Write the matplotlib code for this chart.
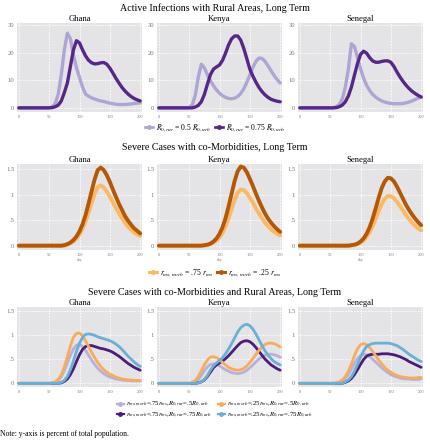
import numpy as np
import matplotlib
matplotlib.use("Agg")
import matplotlib.pyplot as plt
from matplotlib.lines import Line2D

plt.rcParams['font.family'] = ['Liberation Serif', 'DejaVu Serif']
plt.rcParams['mathtext.fontset'] = 'stix'

countries = ["Ghana", "Kenya", "Senegal"]
days = list(range(0, 205, 5))

# --- active infections, rural areas (percent) ---
ghana_r05 = [0]*10 + [0.1, 0.3, 1.5, 5, 12, 21, 27, 25, 19, 14.5, 11, 7.5, 5, 4.2, 3.6, 3.2,
                      2.8, 2.5, 2.3, 2.0, 1.7, 1.5, 1.3, 1.2, 1.2, 1.2, 1.3, 1.4, 1.6, 1.7, 1.8]
ghana_r075 = [0]*11 + [0.1, 0.4, 1.0, 2.5, 5.5, 9, 15, 21, 24.3, 23.5, 21, 18.8, 17.2, 16.3, 15.9,
                       16.0, 16.3, 16.4, 15.8, 14.4, 12.6, 10.7, 9, 7.4, 6.1, 5.0, 4.1, 3.4, 2.9, 2.5]
kenya_r05 = [0]*10 + [0.1, 1, 4.5, 11, 15.8, 14.5, 12, 9.8, 8, 6.5, 5.3, 4.4, 3.8, 3.4, 3.3, 3.5,
                      4.1, 5.2, 6.9, 9.2, 11.9, 14.6, 16.8, 18, 17.9, 16.8, 15.2, 13.4, 11.7, 10.2, 9]
kenya_r075 = [0]*12 + [0.3, 0.9, 2.2, 4.8, 8.5, 12, 14, 14.8, 15.5, 17.2, 19.8, 22.8, 25, 26, 26,
                       24.5, 21.5, 17.8, 14, 11.5, 9.3, 7.4, 5.9, 4.7, 3.8, 3.1, 2.7, 2.4, 2.2]
senegal_r05 = [0]*11 + [0.1, 0.4, 1.2, 3.2, 7.5, 14, 23.2, 22.2, 18.2, 14.2, 10.8, 8.2, 6.3, 4.9,
                        3.9, 3.1, 2.5, 2.1, 1.8, 1.6, 1.5, 1.5, 1.5, 1.6, 1.8, 2.1, 2.5, 3, 3.5, 4]
senegal_r075 = [0]*12 + [0.1, 0.4, 1, 2.2, 4.3, 7.5, 11.8, 16, 19.3, 20.5, 19.8, 18.2, 17, 16.5,
                         16.5, 16.8, 17, 17, 16.5, 15, 13, 11.2, 9.6, 8.2, 7, 6, 5.2, 4.5, 3.9]

# --- severe cases, co-morbidities ---
ghana_m075 = [0]*16 + [0.02, 0.05, 0.08, 0.14, 0.22, 0.33, 0.47, 0.65, 0.84, 1.02, 1.15, 1.18, 1.14,
                       1.06, 0.96, 0.85, 0.74, 0.63, 0.54, 0.45, 0.37, 0.31, 0.26, 0.22, 0.19]
ghana_m025 = [0]*15 + [0.01, 0.03, 0.06, 0.11, 0.18, 0.28, 0.42, 0.6, 0.83, 1.07, 1.3, 1.48, 1.53,
                       1.48, 1.38, 1.25, 1.1, 0.96, 0.82, 0.7, 0.58, 0.49, 0.41, 0.34, 0.29, 0.24]
kenya_m075 = [0]*16 + [0.01, 0.03, 0.06, 0.1, 0.16, 0.25, 0.38, 0.54, 0.72, 0.9, 1.04, 1.1, 1.09,
                       1.03, 0.94, 0.84, 0.73, 0.63, 0.54, 0.45, 0.38, 0.32, 0.27, 0.23, 0.2]
kenya_m025 = [0]*15 + [0.01, 0.02, 0.04, 0.08, 0.14, 0.23, 0.36, 0.54, 0.77, 1.02, 1.27, 1.46, 1.55,
                       1.53, 1.44, 1.31, 1.17, 1.02, 0.88, 0.75, 0.63, 0.53, 0.45, 0.38, 0.32, 0.27]
senegal_m075 = [0]*18 + [0.01, 0.03, 0.06, 0.1, 0.17, 0.26, 0.38, 0.52, 0.68, 0.82, 0.92, 0.97,
                         0.97, 0.93, 0.86, 0.78, 0.69, 0.6, 0.52, 0.45, 0.39, 0.34, 0.3]
senegal_m025 = [0]*17 + [0.01, 0.02, 0.04, 0.08, 0.14, 0.23, 0.36, 0.53, 0.73, 0.94, 1.13, 1.26,
                         1.33, 1.32, 1.26, 1.16, 1.04, 0.92, 0.8, 0.7, 0.61, 0.53, 0.46, 0.4]

# --- severe cases, co-morbidities and rural areas ---
ghana_a = [0]*12 + [0.02, 0.06, 0.14, 0.26, 0.42, 0.58, 0.71, 0.79, 0.8, 0.76, 0.68, 0.58, 0.48,
                    0.39, 0.31, 0.25, 0.2, 0.16, 0.13, 0.11, 0.09, 0.08, 0.07, 0.06, 0.06, 0.05, 0.05, 0.05, 0.05]
ghana_b = [0]*11 + [0.01, 0.03, 0.08, 0.18, 0.34, 0.55, 0.77, 0.95, 1.03, 1.04, 0.98, 0.88, 0.76,
                    0.64, 0.53, 0.43, 0.35, 0.28, 0.23, 0.19, 0.16, 0.13, 0.11, 0.09, 0.08, 0.07, 0.07, 0.06, 0.06, 0.06]
ghana_c = [0]*14 + [0.01, 0.04, 0.09, 0.18, 0.3, 0.45, 0.59, 0.7, 0.76, 0.78, 0.78, 0.76, 0.74, 0.72,
                    0.71, 0.69, 0.67, 0.64, 0.6, 0.56, 0.51, 0.46, 0.41, 0.37, 0.33, 0.3, 0.27]
ghana_d = [0]*14 + [0.02, 0.06, 0.14, 0.28, 0.46, 0.66, 0.83, 0.95, 1.01, 1.02, 1.01, 0.99, 0.96,
                    0.94, 0.92, 0.9, 0.88, 0.85, 0.81, 0.76, 0.7, 0.63, 0.56, 0.5, 0.44, 0.39, 0.35]
kenya_a = [0]*12 + [0.03, 0.08, 0.16, 0.26, 0.34, 0.39, 0.4, 0.39, 0.36, 0.32, 0.28, 0.25, 0.22,
                    0.21, 0.2, 0.21, 0.23, 0.27, 0.32, 0.38, 0.44, 0.5, 0.55, 0.58, 0.6, 0.6, 0.59, 0.57, 0.54]
kenya_b = [0]*11 + [0.02, 0.06, 0.14, 0.26, 0.38, 0.48, 0.54, 0.55, 0.53, 0.49, 0.43, 0.38, 0.33,
                    0.3, 0.28, 0.27, 0.28, 0.31, 0.36, 0.43, 0.51, 0.6, 0.68, 0.75, 0.8, 0.83, 0.83, 0.82, 0.79, 0.75]
kenya_c = [0]*13 + [0.01, 0.03, 0.07, 0.14, 0.23, 0.32, 0.38, 0.42, 0.46, 0.51, 0.57, 0.64, 0.71,
                    0.78, 0.84, 0.87, 0.88, 0.86, 0.81, 0.74, 0.66, 0.58, 0.5, 0.44, 0.38, 0.34, 0.3, 0.27]
kenya_d = [0]*13 + [0.01, 0.03, 0.08, 0.16, 0.27, 0.36, 0.42, 0.47, 0.53, 0.61, 0.71, 0.82, 0.94,
                    1.06, 1.15, 1.2, 1.22, 1.19, 1.12, 1.02, 0.9, 0.78, 0.67, 0.58, 0.51, 0.45, 0.41, 0.38]
senegal_a = [0]*13 + [0.02, 0.05, 0.1, 0.18, 0.29, 0.41, 0.51, 0.57, 0.6, 0.59, 0.55, 0.5, 0.44,
                      0.38, 0.32, 0.27, 0.22, 0.18, 0.15, 0.13, 0.11, 0.1, 0.09, 0.09, 0.08, 0.08, 0.08, 0.09]
senegal_b = [0]*12 + [0.01, 0.03, 0.07, 0.14, 0.25, 0.4, 0.57, 0.71, 0.8, 0.82, 0.8, 0.74, 0.66,
                      0.57, 0.48, 0.4, 0.33, 0.27, 0.23, 0.19, 0.16, 0.14, 0.13, 0.12, 0.11, 0.11, 0.11, 0.12, 0.12]
senegal_c = [0]*15 + [0.02, 0.05, 0.1, 0.18, 0.28, 0.39, 0.49, 0.56, 0.59, 0.6, 0.6, 0.6, 0.61,
                      0.61, 0.61, 0.6, 0.59, 0.57, 0.55, 0.52, 0.49, 0.45, 0.42, 0.39, 0.36, 0.33]
senegal_d = [0]*15 + [0.03, 0.07, 0.14, 0.25, 0.39, 0.54, 0.67, 0.76, 0.8, 0.82, 0.83, 0.83, 0.83,
                      0.83, 0.83, 0.82, 0.8, 0.78, 0.74, 0.7, 0.65, 0.6, 0.56, 0.52, 0.48, 0.45]

rows = [
  {"title": "Active Infections with Rural Areas, Long Term",
   "series": [[ghana_r05, ghana_r075], [kenya_r05, kenya_r075], [senegal_r05, senegal_r075]],
   "colors": ['#ada6d2', '#542788'],
   "labels": [r"$R_{0,rur}$ = 0.5 $R_{0,urb}$", r"$R_{0,rur}$ = 0.75 $R_{0,urb}$"],
   "yticks": [0, 10, 20, 30], "yticklabels": ["0", "10", "20", "30"], "ylim": (-1.5, 30.7),
   "lw": 2.4, "top": 23, "bottom": 112, "ttl": 8, "leg": 128, "xlabel": ""},
  {"title": "Severe Cases with co-Morbidities, Long Term",
   "series": [[ghana_m075, ghana_m025], [kenya_m075, kenya_m025], [senegal_m075, senegal_m025]],
   "colors": ['#fdb863', '#b35806'],
   "labels": [r"$r_{ms,morb}$ = .75 $r_{ms}$", r"$r_{ms,morb}$ = .25 $r_{ms}$"],
   "yticks": [0, 0.5, 1, 1.5], "yticklabels": ["0", ".5", "1", "1.5"], "ylim": (-0.085, 1.6),
   "lw": 2.8, "top": 164, "bottom": 250, "ttl": 147, "leg": 273, "xlabel": "day"},
  {"title": "Severe Cases with co-Morbidities and Rural Areas, Long Term",
   "series": [[ghana_a, ghana_c, ghana_b, ghana_d], [kenya_a, kenya_c, kenya_b, kenya_d],
              [senegal_a, senegal_c, senegal_b, senegal_d]],
   "colors": ['#b7b0d8', '#4b1c7a', '#f9ab5c', '#6aafd6'],
   "labels": [r"$r_{ms,morb}$=.75$r_{ms}$,$R_{0,rur}$=.5$R_{0,urb}$",
              r"$r_{ms,morb}$=.75$r_{ms}$,$R_{0,rur}$=.75$R_{0,urb}$",
              r"$r_{ms,morb}$=.25$r_{ms}$,$R_{0,rur}$=.5$R_{0,urb}$",
              r"$r_{ms,morb}$=.25$r_{ms}$,$R_{0,rur}$=.75$R_{0,urb}$"],
   "yticks": [0, 0.5, 1, 1.5], "yticklabels": ["0", ".5", "1", "1.5"], "ylim": (-0.076, 1.576),
   "lw": 2.0, "top": 307, "bottom": 387, "ttl": 292, "leg": 410, "xlabel": ""},
]

W, H = 430, 440
fig = plt.figure(figsize=(W/100, H/100), dpi=100)
lefts = [17, 157, 298]
axw = 125

for row in rows:
  for i, country in enumerate(countries):
    ax = fig.add_axes([lefts[i]/W, 1 - row["bottom"]/H, axw/W, (row["bottom"] - row["top"])/H])
    ax.set_facecolor('#e4e4e6')
    for s in ax.spines.values():
      s.set_visible(False)
    ax.grid(True, color='white', linewidth=0.6, linestyle=(0, (2, 1.5)))
    ax.set_axisbelow(True)
    for vals, c in zip(row["series"][i], row["colors"]):
      ax.plot(days, vals, color=c, linewidth=row["lw"], solid_capstyle='round')
    ax.set_xlim(-3, 203)
    ax.set_ylim(*row["ylim"])
    ax.set_xticks([0, 50, 100, 150, 200])
    ax.set_xticklabels(["0", "50", "100", "150", "200"])
    ax.set_yticks(row["yticks"])
    ax.set_yticklabels(row["yticklabels"])
    ax.tick_params(axis='x', labelsize=3.2, colors='#777777', length=0, pad=2)
    ax.tick_params(axis='y', labelsize=4.8, colors='#777777', length=0, pad=2)
    if row["xlabel"]:
      ax.set_xlabel(row["xlabel"], fontsize=3, color='#777777', labelpad=1)
    ax.set_title(country, fontsize=6.2, pad=1.5)
  fig.text(0.5, 1 - row["ttl"]/H, row["title"], ha='center', va='center', fontsize=7.2)
  handles = [Line2D([0], [0], color=c, linewidth=row["lw"]*0.8, marker='o', markersize=2.5)
             for c in row["colors"]]
  if len(handles) == 2:
    fig.legend(handles, row["labels"], loc='center', bbox_to_anchor=(0.5, 1 - row["leg"]/H),
               ncol=2, frameon=False, fontsize=5.5, handlelength=1.0, handletextpad=0.4,
               columnspacing=0.6)
  else:
    fig.legend(handles, row["labels"], loc='center', bbox_to_anchor=(0.5, 1 - row["leg"]/H),
               ncol=2, frameon=False, fontsize=4.9, handlelength=1.0, handletextpad=0.4,
               columnspacing=0.8, labelspacing=0.15)

fig.text(0.0, 1 - 434/H, "Note: y-axis is percent of total population.", ha='left', va='center',
         fontsize=5.5)

fig.savefig("out.png", dpi=100)
